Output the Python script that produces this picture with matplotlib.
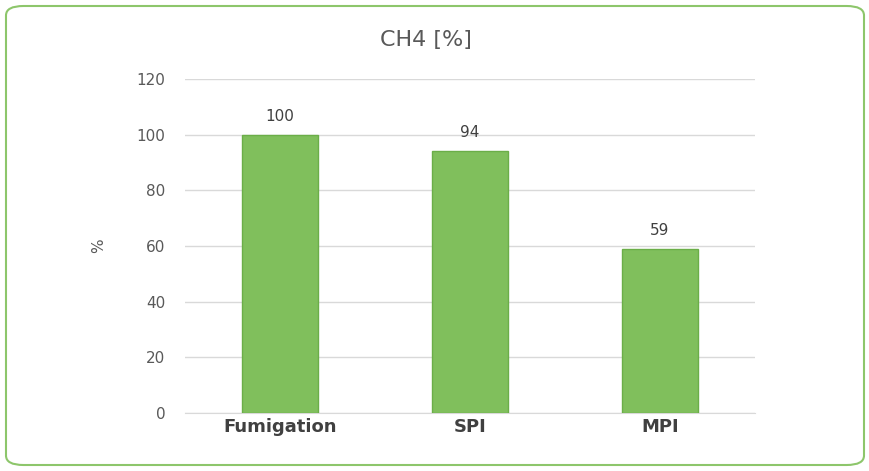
import matplotlib
matplotlib.use("Agg")
import matplotlib.pyplot as plt
from matplotlib.patches import FancyBboxPatch

categories = ["Fumigation", "SPI", "MPI"]
values = [100, 94, 59]
yticks = [0, 20, 40, 60, 80, 100, 120]

fig = plt.figure(figsize=(8.7, 4.71), dpi=100)
fig.patch.set_facecolor("white")
border = FancyBboxPatch((6/870, 6/471), 858/870, 459/471,
                        boxstyle="round,pad=0,rounding_size=0.02",
                        transform=fig.transFigure, fill=False,
                        edgecolor="#8DC66B", linewidth=1.5)
fig.patches.append(border)

ax = fig.add_axes([185/870, 1-413/471, 570/870, 334/471])
x = range(len(categories))
bars = ax.bar(x, values, width=0.4, color="#80BF5C", edgecolor="#6BAE48", linewidth=1, zorder=3)
for xi, v in zip(x, values):
    ax.text(xi, v + 4, str(v), ha="center", va="bottom", fontsize=11, color="#404040")
ax.set_xlim(-0.5, 2.5)
ax.set_ylim(0, 120)
ax.set_yticks(yticks)
ax.yaxis.grid(True, color="#D9D9D9", linewidth=1, zorder=0)
for s in ["top", "right", "left"]:
    ax.spines[s].set_visible(False)
ax.spines["bottom"].set_color("#D9D9D9")
ax.tick_params(axis="both", length=0)
ax.tick_params(axis="y", labelsize=11, labelcolor="#595959", pad=14)
ax.set_xticks(list(x))
ax.set_xticklabels(categories, fontsize=13, fontweight="bold", color="#404040")
ax.set_ylabel("%", fontsize=11, color="#595959", labelpad=22)
fig.text(0.49, 1-40/471, "CH4 [%]", ha="center", va="center", fontsize=16, color="#595959")
fig.savefig("out.png", dpi=100)
